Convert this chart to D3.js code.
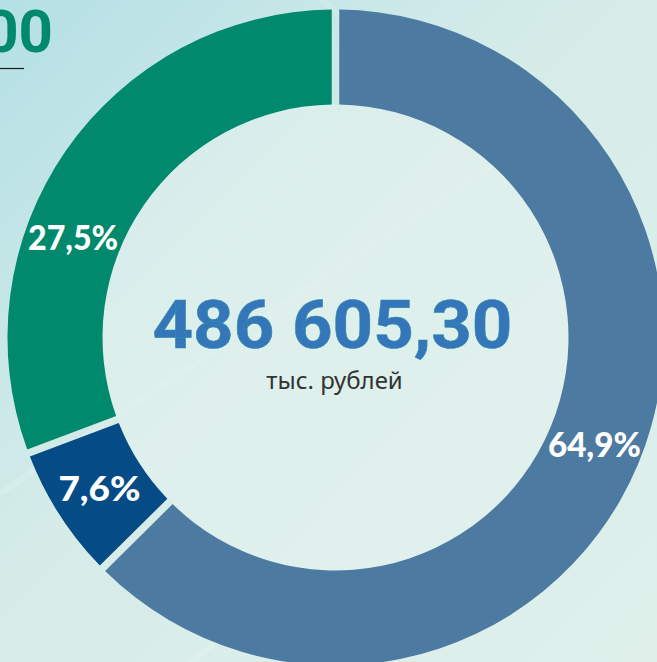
<!DOCTYPE html>
<html>
<head>
<meta charset="utf-8">
<script src="https://cdn.jsdelivr.net/npm/d3@7"></script>
<style>
  html, body { margin: 0; padding: 0; overflow: hidden; }
  body { width: 657px; height: 662px; }
</style>
</head>
<body>
<svg id="chart" width="657" height="662"></svg>
<script>
// slices as drawn (arc sizes), and the printed labels
const categories = ["blue", "darkBlue", "green"];
const arcShares = [62.9, 6.4, 30.7];
const percentLabels = ["64,9%", "7,6%", "27,5%"];
const labelShift = [0, 0, -14]; // degrees, green label sits higher than its centroid
const colors = ["#4c7aa1", "#054b85", "#00896d"];

const totalValue = "486 605,30";
const totalUnit = "тыс. рублей";
const titleTail = "00";

const width = 657, height = 662;
const cx = 335.5, cy = 337.5;
const outerR = 328, innerR = 233;

const svg = d3.select("#chart");

// background
const defs = svg.append("defs");
const bg = defs.append("linearGradient").attr("id", "bg")
  .attr("x1", 0).attr("y1", 0).attr("x2", 1).attr("y2", 1);
bg.append("stop").attr("offset", "0%").attr("stop-color", "#b4e0e5");
bg.append("stop").attr("offset", "45%").attr("stop-color", "#d6ece9");
bg.append("stop").attr("offset", "100%").attr("stop-color", "#dff0eb");
svg.append("rect").attr("width", width).attr("height", height).attr("fill", "url(#bg)");

// faint light streaks
const streaks = [[-100, 560, 500, 160], [120, 720, 700, 250], [300, -20, 657, 300]];
svg.append("g").selectAll("line").data(streaks).join("line")
  .attr("x1", d => d[0]).attr("y1", d => d[1])
  .attr("x2", d => d[2]).attr("y2", d => d[3])
  .attr("stroke", "#ffffff").attr("stroke-opacity", 0.14).attr("stroke-width", 6);

// donut hole, slightly lighter
svg.append("circle").attr("cx", cx).attr("cy", cy).attr("r", innerR)
  .attr("fill", "#e2f2ee").attr("fill-opacity", 0.6);

const pie = d3.pie().sort(null).value(d => d).padAngle(7.5 / outerR);
const arc = d3.arc().innerRadius(innerR).outerRadius(outerR).padRadius(outerR);
const arcs = pie(arcShares);

const g = svg.append("g").attr("transform", `translate(${cx},${cy})`);

g.selectAll("path").data(arcs).join("path")
  .attr("d", arc)
  .attr("fill", (d, i) => colors[i]);

// percentage labels
const labelRadius = (innerR + outerR) / 2;
g.selectAll("text.pct").data(arcs).join("text")
  .attr("class", "pct")
  .attr("transform", (d, i) => {
    const a = (d.startAngle + d.endAngle) / 2 + labelShift[i] * Math.PI / 180;
    return `translate(${labelRadius * Math.sin(a)},${-labelRadius * Math.cos(a) + 12})`;
  })
  .attr("text-anchor", "middle")
  .attr("font-family", "Lato, 'Open Sans', sans-serif")
  .attr("font-weight", 900)
  .attr("font-size", 34)
  .attr("fill", "#ffffff")
  .attr("textLength", (d, i) => [93, 82, 90][i])
  .attr("lengthAdjust", "spacingAndGlyphs")
  .text((d, i) => percentLabels[i]);

// centre total
g.append("text")
  .attr("x", -3).attr("y", 10)
  .attr("text-anchor", "middle")
  .attr("font-family", "Roboto, 'Open Sans', sans-serif")
  .attr("font-weight", 700)
  .attr("font-size", 67)
  .attr("fill", "#3575b9")
  .attr("stroke", "#2f8fa8").attr("stroke-width", 0.6)
  .attr("textLength", 360)
  .attr("lengthAdjust", "spacingAndGlyphs")
  .text(totalValue);

g.append("text")
  .attr("x", -1).attr("y", 51)
  .attr("text-anchor", "middle")
  .attr("font-family", "'Noto Sans', 'Open Sans', sans-serif")
  .attr("font-size", 24)
  .attr("fill", "#333333")
  .text(totalUnit);

// cut-off heading in the corner
svg.append("text")
  .attr("x", 53).attr("y", 52)
  .attr("text-anchor", "end")
  .attr("font-family", "Roboto, sans-serif")
  .attr("font-weight", 700)
  .attr("font-size", 60)
  .attr("fill", "#00896d")
  .text(titleTail);

svg.append("line")
  .attr("x1", 0).attr("x2", 24).attr("y1", 68.5).attr("y2", 68.5)
  .attr("stroke", "#1a1a1a").attr("stroke-width", 1.2);
</script>
</body>
</html>
